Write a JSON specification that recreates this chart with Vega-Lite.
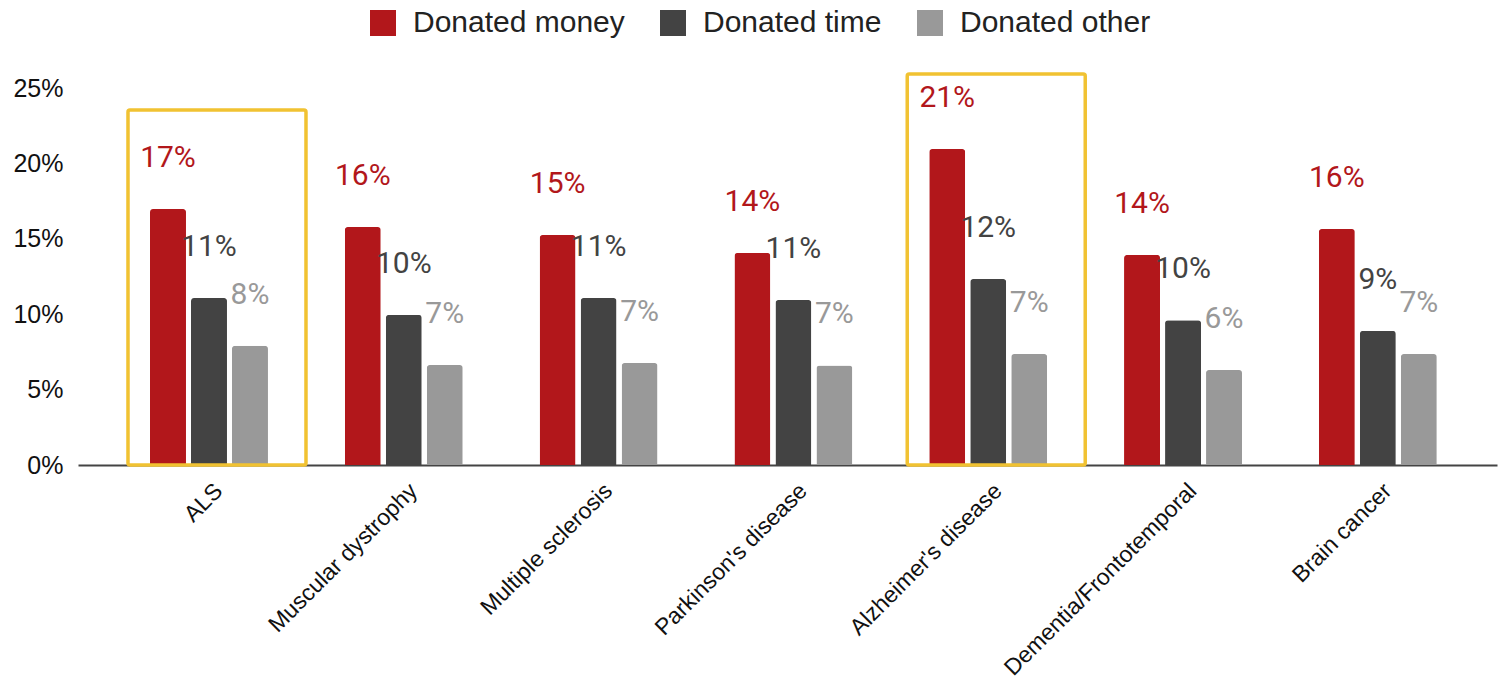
{
  "$schema": "https://vega.github.io/schema/vega-lite/v6.json",
  "width": 1419,
  "height": 377,
  "autosize": {"type": "none"},
  "padding": {"left": 78, "top": 88, "right": 2, "bottom": 212},
  "background": "white",
  "config": {"view": {"stroke": null}},
  "datasets": {
    "donations": [
      {"condition": "ALS", "series": "Donated money", "value": 0.1697},
      {"condition": "ALS", "series": "Donated time", "value": 0.1107},
      {"condition": "ALS", "series": "Donated other", "value": 0.079},
      {"condition": "Muscular dystrophy", "series": "Donated money", "value": 0.1578},
      {"condition": "Muscular dystrophy", "series": "Donated time", "value": 0.0995},
      {"condition": "Muscular dystrophy", "series": "Donated other", "value": 0.0663},
      {"condition": "Multiple sclerosis", "series": "Donated money", "value": 0.1525},
      {"condition": "Multiple sclerosis", "series": "Donated time", "value": 0.1107},
      {"condition": "Multiple sclerosis", "series": "Donated other", "value": 0.0676},
      {"condition": "Parkinson's disease", "series": "Donated money", "value": 0.1406},
      {"condition": "Parkinson's disease", "series": "Donated time", "value": 0.1094},
      {"condition": "Parkinson's disease", "series": "Donated other", "value": 0.066},
      {"condition": "Alzheimer's disease", "series": "Donated money", "value": 0.2095},
      {"condition": "Alzheimer's disease", "series": "Donated time", "value": 0.1233},
      {"condition": "Alzheimer's disease", "series": "Donated other", "value": 0.0736},
      {"condition": "Dementia/Frontotemporal", "series": "Donated money", "value": 0.1393},
      {"condition": "Dementia/Frontotemporal", "series": "Donated time", "value": 0.096},
      {"condition": "Dementia/Frontotemporal", "series": "Donated other", "value": 0.063},
      {"condition": "Brain cancer", "series": "Donated money", "value": 0.1565},
      {"condition": "Brain cancer", "series": "Donated time", "value": 0.0889},
      {"condition": "Brain cancer", "series": "Donated other", "value": 0.0736}
    ],
    "highlights": [
      {"condition": "ALS", "top": 0.2354},
      {"condition": "Alzheimer's disease", "top": 0.2593}
    ]
  },
  "encoding": {
    "x": {
      "field": "condition",
      "type": "nominal",
      "title": null,
      "scale": {
        "domain": ["ALS", "Muscular dystrophy", "Multiple sclerosis", "Parkinson's disease", "Alzheimer's disease", "Dementia/Frontotemporal", "Brain cancer"],
        "paddingInner": 0,
        "paddingOuter": 0.142,
        "align": 0.607
      },
      "axis": {
        "labelAngle": -45,
        "labelAlign": "right",
        "labelBaseline": "middle",
        "labelFont": "Liberation Sans",
        "labelFontSize": 23,
        "labelColor": "#111111",
        "labelPadding": 22,
        "labelOffset": 10,
        "labelLimit": 500,
        "ticks": false,
        "domainColor": "#444444",
        "domainWidth": 2,
        "grid": false,
        "zindex": 0
      }
    }
  },
  "layer": [
    {
      "data": {"name": "donations"},
      "mark": {"type": "bar", "cornerRadiusTopLeft": 3, "cornerRadiusTopRight": 3},
      "encoding": {
        "xOffset": {
          "field": "series",
          "type": "nominal",
          "sort": ["Donated money", "Donated time", "Donated other"],
          "scale": {"paddingInner": 0.122, "paddingOuter": 0.937}
        },
        "y": {
          "field": "value",
          "type": "quantitative",
          "title": null,
          "scale": {"domain": [0, 0.25], "nice": false},
          "axis": {
            "values": [0, 0.05, 0.1, 0.15, 0.2, 0.25],
            "format": ".0%",
            "labelFont": "Liberation Sans",
            "labelFontSize": 25,
            "labelColor": "#111111",
            "labelPadding": 15,
            "domain": false,
            "ticks": false,
            "grid": false
          }
        },
        "color": {
          "field": "series",
          "type": "nominal",
          "sort": ["Donated money", "Donated time", "Donated other"],
          "scale": {
            "domain": ["Donated money", "Donated time", "Donated other"],
            "range": ["#b2171b", "#434343", "#999999"]
          },
          "legend": {
            "title": null,
            "orient": "none",
            "direction": "horizontal",
            "legendX": 290,
            "legendY": -80,
            "padding": 0,
            "symbolType": "square",
            "symbolSize": 676,
            "symbolStrokeWidth": 0,
            "symbolOpacity": 1,
            "labelFont": "Liberation Sans",
            "labelFontSize": 30,
            "labelColor": "#222222",
            "labelOffset": 15,
            "columnPadding": 33,
            "labelLimit": 400
          }
        }
      }
    },
    {
      "data": {"name": "donations"},
      "mark": {"type": "text", "font": "Roboto", "fontSize": 30, "baseline": "middle", "align": "center", "dy": -51},
      "encoding": {
        "xOffset": {
          "field": "series",
          "type": "nominal",
          "sort": ["Donated money", "Donated time", "Donated other"],
          "scale": {"paddingInner": 0.122, "paddingOuter": 0.937}
        },
        "y": {"field": "value", "type": "quantitative"},
        "text": {"field": "value", "type": "quantitative", "format": ".0%"},
        "color": {"field": "series", "type": "nominal", "sort": ["Donated money", "Donated time", "Donated other"]}
      }
    },
    {
      "data": {"name": "highlights"},
      "mark": {"type": "bar", "fill": "transparent", "stroke": "#f1c232", "strokeWidth": 3.5, "width": 178, "xOffset": 8, "cornerRadius": 2},
      "encoding": {
        "y": {"field": "top", "type": "quantitative"},
        "y2": {"datum": 0}
      }
    }
  ]
}
